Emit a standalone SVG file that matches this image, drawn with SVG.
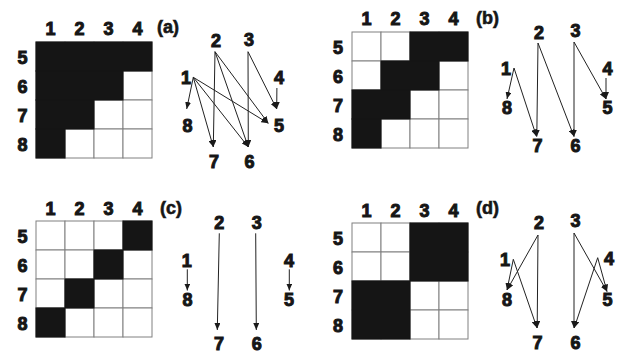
<svg xmlns="http://www.w3.org/2000/svg" width="622" height="355" viewBox="0 0 622 355">
<style>
.lbl{font-family:"Liberation Sans",Arial,sans-serif;font-weight:bold;font-size:18px;fill:#161616;stroke:#161616;stroke-width:1;text-anchor:middle}
.tag{font-family:"Liberation Sans",Arial,sans-serif;font-weight:bold;font-size:18px;fill:#161616;stroke:#161616;stroke-width:0.6}
.w{fill:#fff;stroke:#808080;stroke-width:1}
.b{fill:#151515;stroke:#151515;stroke-width:1}
.e{stroke:#222;stroke-width:1;fill:none;marker-end:url(#ah)}
</style>
<defs>
<marker id="ah" markerUnits="userSpaceOnUse" markerWidth="7" markerHeight="6" refX="7" refY="3" orient="auto">
<path d="M0,0 L7,3 L0,6 Z" fill="#1a1a1a"/>
</marker>
</defs>

<!-- Panel (a) matrix -->
<g id="matrix-a">
<g class="w">
<rect x="36" y="42" width="29" height="29"/><rect x="65" y="42" width="29" height="29"/><rect x="94" y="42" width="29" height="29"/><rect x="123" y="42" width="29" height="29"/>
<rect x="36" y="71" width="29" height="29"/><rect x="65" y="71" width="29" height="29"/><rect x="94" y="71" width="29" height="29"/><rect x="123" y="71" width="29" height="29"/>
<rect x="36" y="100" width="29" height="29"/><rect x="65" y="100" width="29" height="29"/><rect x="94" y="100" width="29" height="29"/><rect x="123" y="100" width="29" height="29"/>
<rect x="36" y="129" width="29" height="29"/><rect x="65" y="129" width="29" height="29"/><rect x="94" y="129" width="29" height="29"/><rect x="123" y="129" width="29" height="29"/>
</g>
<g class="b">
<rect x="36" y="42" width="116" height="29"/>
<rect x="36" y="71" width="87" height="29"/>
<rect x="36" y="100" width="58" height="29"/>
<rect x="36" y="129" width="29" height="29"/>
</g>
<g class="lbl">
<text x="50.5" y="35">1</text><text x="79.5" y="35">2</text><text x="108.5" y="35">3</text><text x="137.5" y="35">4</text>
<text x="22.5" y="64">5</text><text x="22.5" y="93">6</text><text x="22.5" y="122">7</text><text x="22.5" y="151">8</text>
</g>
</g>

<!-- Panel (b) matrix -->
<g id="matrix-b">
<g class="w">
<rect x="352" y="32" width="29" height="29"/><rect x="381" y="32" width="29" height="29"/><rect x="410" y="32" width="29" height="29"/><rect x="439" y="32" width="29" height="29"/>
<rect x="352" y="61" width="29" height="29"/><rect x="381" y="61" width="29" height="29"/><rect x="410" y="61" width="29" height="29"/><rect x="439" y="61" width="29" height="29"/>
<rect x="352" y="90" width="29" height="29"/><rect x="381" y="90" width="29" height="29"/><rect x="410" y="90" width="29" height="29"/><rect x="439" y="90" width="29" height="29"/>
<rect x="352" y="119" width="29" height="29"/><rect x="381" y="119" width="29" height="29"/><rect x="410" y="119" width="29" height="29"/><rect x="439" y="119" width="29" height="29"/>
</g>
<g class="b">
<rect x="410" y="32" width="58" height="29"/>
<rect x="381" y="61" width="58" height="29"/>
<rect x="352" y="90" width="58" height="29"/>
<rect x="352" y="119" width="29" height="29"/>
</g>
<g class="lbl">
<text x="366.5" y="25">1</text><text x="395.5" y="25">2</text><text x="424.5" y="25">3</text><text x="453.5" y="25">4</text>
<text x="338" y="53.5">5</text><text x="338" y="82.5">6</text><text x="338" y="111.5">7</text><text x="338" y="140.5">8</text>
</g>
</g>

<!-- Panel (c) matrix -->
<g id="matrix-c">
<g class="w">
<rect x="36" y="221" width="29" height="29"/><rect x="65" y="221" width="29" height="29"/><rect x="94" y="221" width="29" height="29"/><rect x="123" y="221" width="29" height="29"/>
<rect x="36" y="250" width="29" height="29"/><rect x="65" y="250" width="29" height="29"/><rect x="94" y="250" width="29" height="29"/><rect x="123" y="250" width="29" height="29"/>
<rect x="36" y="279" width="29" height="29"/><rect x="65" y="279" width="29" height="29"/><rect x="94" y="279" width="29" height="29"/><rect x="123" y="279" width="29" height="29"/>
<rect x="36" y="308" width="29" height="29"/><rect x="65" y="308" width="29" height="29"/><rect x="94" y="308" width="29" height="29"/><rect x="123" y="308" width="29" height="29"/>
</g>
<g class="b">
<rect x="123" y="221" width="29" height="29"/>
<rect x="94" y="250" width="29" height="29"/>
<rect x="65" y="279" width="29" height="29"/>
<rect x="36" y="308" width="29" height="29"/>
</g>
<g class="lbl">
<text x="50.5" y="215">1</text><text x="79.5" y="215">2</text><text x="108.5" y="215">3</text><text x="137.5" y="215">4</text>
<text x="22.5" y="243">5</text><text x="22.5" y="272">6</text><text x="22.5" y="301">7</text><text x="22.5" y="330">8</text>
</g>
</g>

<!-- Panel (d) matrix -->
<g id="matrix-d">
<g class="w">
<rect x="352" y="223" width="29" height="29"/><rect x="381" y="223" width="29" height="29"/><rect x="410" y="223" width="29" height="29"/><rect x="439" y="223" width="29" height="29"/>
<rect x="352" y="252" width="29" height="29"/><rect x="381" y="252" width="29" height="29"/><rect x="410" y="252" width="29" height="29"/><rect x="439" y="252" width="29" height="29"/>
<rect x="352" y="281" width="29" height="29"/><rect x="381" y="281" width="29" height="29"/><rect x="410" y="281" width="29" height="29"/><rect x="439" y="281" width="29" height="29"/>
<rect x="352" y="310" width="29" height="29"/><rect x="381" y="310" width="29" height="29"/><rect x="410" y="310" width="29" height="29"/><rect x="439" y="310" width="29" height="29"/>
</g>
<g class="b">
<rect x="410" y="223" width="58" height="58"/>
<rect x="352" y="281" width="58" height="58"/>
</g>
<g class="lbl">
<text x="366.5" y="217">1</text><text x="395.5" y="217">2</text><text x="424.5" y="217">3</text><text x="453.5" y="217">4</text>
<text x="338" y="245">5</text><text x="338" y="274">6</text><text x="338" y="303">7</text><text x="338" y="332">8</text>
</g>
</g>

<!-- Panel tags -->
<g id="tags">
<text class="tag" x="157" y="33">(a)</text>
<text class="tag" x="476" y="24">(b)</text>
<text class="tag" x="160" y="214">(c)</text>
<text class="tag" x="476" y="214">(d)</text>
</g>

<!-- Graph nodes (a) -->
<g id="a-n1" class="lbl"><text x="186" y="83.5">1</text></g>
<g id="a-n2" class="lbl"><text x="216" y="46.5">2</text></g>
<g id="a-n3" class="lbl"><text x="249" y="45.5">3</text></g>
<g id="a-n4" class="lbl"><text x="279" y="83.5">4</text></g>
<g id="a-n5" class="lbl"><text x="279" y="131.5">5</text></g>
<g id="a-n6" class="lbl"><text x="249.5" y="168">6</text></g>
<g id="a-n7" class="lbl"><text x="214" y="168">7</text></g>
<g id="a-n8" class="lbl"><text x="187.5" y="131.5">8</text></g>

<!-- Graph nodes (b) -->
<g id="b-n1" class="lbl"><text x="506" y="75">1</text></g>
<g id="b-n2" class="lbl"><text x="539" y="38.5">2</text></g>
<g id="b-n3" class="lbl"><text x="575.5" y="36.5">3</text></g>
<g id="b-n4" class="lbl"><text x="607.5" y="75">4</text></g>
<g id="b-n5" class="lbl"><text x="607.5" y="114">5</text></g>
<g id="b-n6" class="lbl"><text x="575.5" y="151.5">6</text></g>
<g id="b-n7" class="lbl"><text x="537.5" y="151.5">7</text></g>
<g id="b-n8" class="lbl"><text x="507" y="114">8</text></g>

<!-- Graph nodes (c) -->
<g id="c-n1" class="lbl"><text x="186.7" y="266.5">1</text></g>
<g id="c-n2" class="lbl"><text x="219.3" y="228.5">2</text></g>
<g id="c-n3" class="lbl"><text x="256.7" y="228.5">3</text></g>
<g id="c-n4" class="lbl"><text x="289" y="266.5">4</text></g>
<g id="c-n5" class="lbl"><text x="289" y="305.5">5</text></g>
<g id="c-n6" class="lbl"><text x="256.7" y="350">6</text></g>
<g id="c-n7" class="lbl"><text x="219" y="350">7</text></g>
<g id="c-n8" class="lbl"><text x="187.5" y="305.5">8</text></g>

<!-- Graph nodes (d) -->
<g id="d-n1" class="lbl"><text x="505" y="266">1</text></g>
<g id="d-n2" class="lbl"><text x="539" y="228.5">2</text></g>
<g id="d-n3" class="lbl"><text x="575.5" y="227">3</text></g>
<g id="d-n4" class="lbl"><text x="609" y="265">4</text></g>
<g id="d-n5" class="lbl"><text x="607.5" y="305.5">5</text></g>
<g id="d-n6" class="lbl"><text x="575.5" y="348.5">6</text></g>
<g id="d-n7" class="lbl"><text x="537.5" y="348.5">7</text></g>
<g id="d-n8" class="lbl"><text x="507" y="305.5">8</text></g>

<!-- Connectors -->
<g id="connectors">
<!-- (a) -->
<line class="e" x1="193.3" y1="77.3" x2="268.3" y2="123.3"/>
<line class="e" x1="193.3" y1="77.3" x2="248.3" y2="147"/>
<line class="e" x1="193.3" y1="77.3" x2="213.3" y2="147"/>
<line class="e" x1="193.3" y1="77.3" x2="186.7" y2="109"/>
<line class="e" x1="215" y1="51.7" x2="268.3" y2="123.3"/>
<line class="e" x1="215" y1="51.7" x2="248.3" y2="147"/>
<line class="e" x1="215" y1="51.7" x2="213.3" y2="147"/>
<line class="e" x1="248" y1="51.7" x2="276.7" y2="109"/>
<line class="e" x1="248" y1="51.7" x2="248.3" y2="147"/>
<line class="e" x1="276.9" y1="88" x2="276.7" y2="109"/>
<!-- (b) -->
<line class="e" x1="514" y1="68" x2="507" y2="99"/>
<line class="e" x1="514" y1="68" x2="536.5" y2="136.5"/>
<line class="e" x1="538" y1="43" x2="536.8" y2="136.5"/>
<line class="e" x1="538" y1="43" x2="574" y2="136.5"/>
<line class="e" x1="574" y1="42" x2="574" y2="136.5"/>
<line class="e" x1="574" y1="42" x2="606" y2="99"/>
<line class="e" x1="606" y1="78" x2="606" y2="99"/>
<!-- (c) -->
<line class="e" x1="187.3" y1="269.3" x2="187.3" y2="290.5"/>
<line class="e" x1="219.3" y1="233.3" x2="217.3" y2="330"/>
<line class="e" x1="255.7" y1="233.3" x2="256.3" y2="330"/>
<line class="e" x1="289.3" y1="269.3" x2="289.3" y2="290.5"/>
<!-- (d) -->
<line class="e" x1="513.3" y1="259.3" x2="507" y2="290"/>
<line class="e" x1="513.3" y1="259.3" x2="537" y2="328"/>
<line class="e" x1="538" y1="235" x2="507" y2="290"/>
<line class="e" x1="538" y1="235" x2="537.2" y2="328"/>
<line class="e" x1="574" y1="233" x2="574" y2="328"/>
<line class="e" x1="574" y1="233" x2="607" y2="291.5"/>
<line class="e" x1="597.7" y1="257.7" x2="574.2" y2="328"/>
<line class="e" x1="597.7" y1="257.7" x2="607" y2="291.5"/>
</g>
</svg>
